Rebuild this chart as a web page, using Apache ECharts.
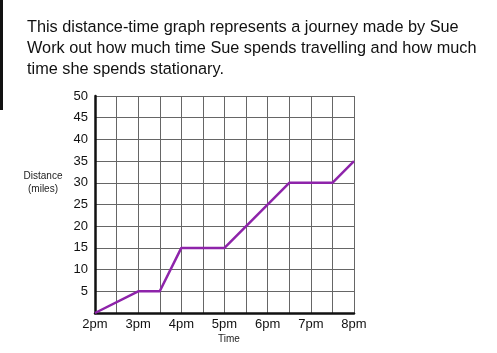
<!DOCTYPE html>
<html>
<head>
<meta charset="utf-8">
<script src="https://cdn.jsdelivr.net/npm/echarts@6/dist/echarts.min.js"></script>
<style>
html,body{margin:0;padding:0;background:#fff;}
#chart{width:497px;height:353px;}
</style>
</head>
<body>
<div id="chart"></div>
<script>
// journey points: time in hours after noon and distance in miles
var times = [2, 3, 3.5, 4, 5, 6.5, 7.5, 8];
var distances = [0, 5, 5, 15, 15, 30, 30, 35];
var questionLines = [
	'This distance-time graph represents a journey made by Sue',
	'Work out how much time Sue spends travelling and how much',
	'time she spends stationary.'
];

var chart = echarts.init(document.getElementById('chart'));

var pts = [];
for (var i = 0; i < times.length; i++) {
	pts.push([times[i], distances[i]]);
}

var option = {
	backgroundColor: '#fff',
	animation: false,
	title: {
		text: questionLines.join('\n'),
		left: 27,
		top: 17,
		padding: 0,
		textStyle: {
			fontFamily: 'Liberation Sans',
			fontSize: 16.3,
			fontWeight: 'normal',
			color: '#111',
			lineHeight: 21
		}
	},
	grid: {
		left: 95,
		right: 143,
		top: 96,
		bottom: 40
	},
	xAxis: {
		type: 'value',
		min: 2,
		max: 8,
		interval: 0.5,
		axisLine: { lineStyle: { color: '#111', width: 2.5 } },
		axisTick: { show: false },
		splitLine: { show: true, lineStyle: { color: '#666', width: 1 } },
		axisLabel: {
			margin: 5,
			fontFamily: 'Liberation Sans',
			fontSize: 13,
			color: '#111',
			formatter: function (v) {
				if (v % 1 !== 0) return '';
				return v + 'pm';
			}
		}
	},
	yAxis: {
		type: 'value',
		min: 0,
		max: 50,
		interval: 5,
		axisLine: { show: true, lineStyle: { color: '#111', width: 2.5 } },
		axisTick: { show: false },
		splitLine: { show: true, lineStyle: { color: '#666', width: 1 } },
		axisLabel: {
			margin: 7,
			fontFamily: 'Liberation Sans',
			fontSize: 13,
			color: '#111',
			formatter: function (v) {
				return v === 0 ? '' : v;
			}
		}
	},
	graphic: [
		{ type: 'rect', left: 0, top: 0, shape: { width: 3, height: 110 }, style: { fill: '#111' } },
		{ type: 'text', x: 43, y: 176, style: { text: 'Distance', font: '10px "Liberation Sans"', fill: '#222', align: 'center', verticalAlign: 'middle' } },
		{ type: 'text', x: 43, y: 189, style: { text: '(miles)', font: '10px "Liberation Sans"', fill: '#222', align: 'center', verticalAlign: 'middle' } },
		{ type: 'text', x: 229, y: 339, style: { text: 'Time', font: '10px "Liberation Sans"', fill: '#222', align: 'center', verticalAlign: 'middle' } }
	],
	series: [
		{
			type: 'line',
			data: pts,
			symbol: 'none',
			lineStyle: { color: '#8e24aa', width: 2.5 },
			z: 5
		}
	]
};

chart.setOption(option);
</script>
</body>
</html>
